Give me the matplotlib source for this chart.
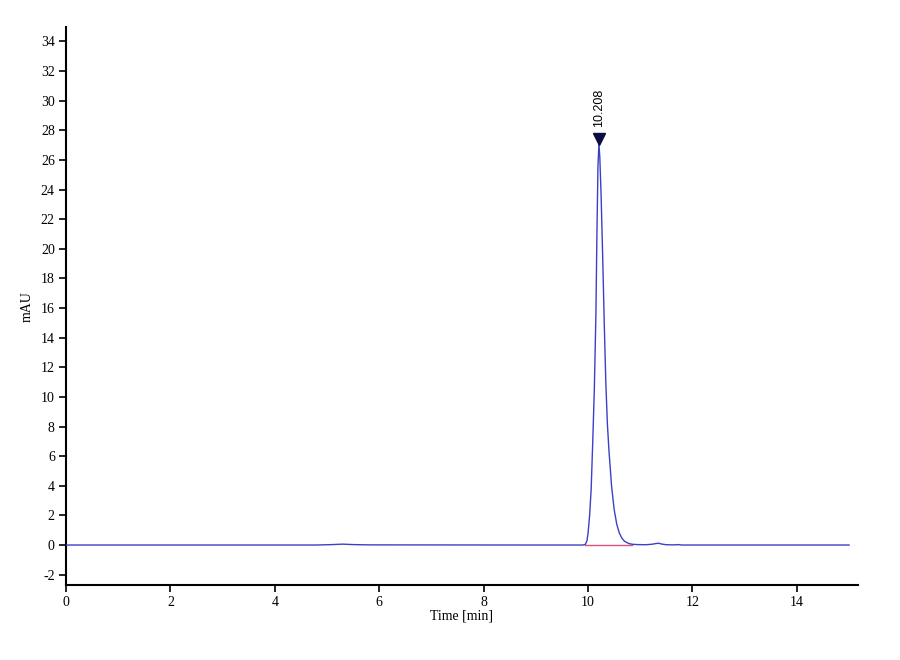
import matplotlib.pyplot as plt

# chromatogram trace (time in min, signal in mAU)
time = [0.0, 4.8, 5.1, 5.3, 5.5, 5.8, 9.0, 9.90, 9.95, 9.98, 10.00, 10.03, 10.06,
        10.09, 10.12, 10.15, 10.17, 10.19, 10.208, 10.225, 10.25, 10.28, 10.31,
        10.34, 10.37, 10.40, 10.45, 10.50, 10.55, 10.60, 10.65, 10.70, 10.78,
        10.85, 10.95, 11.10, 11.22, 11.30, 11.35, 11.42, 11.50, 11.65, 11.72,
        11.80, 13.0, 15.0]
signal = [0.0, 0.0, 0.03, 0.06, 0.03, 0.01, 0.0, 0.0, 0.05, 0.3, 0.8, 2.0, 3.8,
          7.0, 10.5, 15.5, 21.0, 25.6, 27.1, 26.2, 23.6, 19.5, 15.0,
          11.0, 8.2, 6.4, 4.0, 2.4, 1.4, 0.8, 0.45, 0.25, 0.1,
          0.05, 0.03, 0.02, 0.05, 0.1, 0.12, 0.06, 0.02, 0.01, 0.03,
          0.0, 0.0, 0.0]

peak_time = 10.208
peak_height = 27.1
baseline_start, baseline_end = 9.94, 10.85

x_ticks = list(range(0, 15, 2))
y_ticks = list(range(-2, 35, 2))

plt.rcParams['font.family'] = ['Liberation Serif', 'DejaVu Serif']
plt.rcParams['axes.unicode_minus'] = False

fig = plt.figure(figsize=(9, 6.6), dpi=100)
ax = fig.add_axes([0.0733, 0.1136, 0.88, 0.845])

ax.plot([baseline_start, baseline_end], [0, 0], color='#e0507a', lw=1.0, zorder=2)
ax.plot(time, signal, color='#3b40c8', lw=1.0, zorder=3)

ax.plot([peak_time], [peak_height + 0.3], marker='v', color='#0c0c45',
        markersize=8, zorder=4)
ax.text(peak_time, peak_height + 1.1, f'{peak_time:.3f}', rotation=90,
        ha='center', va='bottom', fontsize=9, family=['Liberation Sans'])

ax.set_xlim(0, 15.17)
ax.set_ylim(-2.7, 34.95)
ax.set_xticks(x_ticks)
ax.set_yticks(y_ticks)
ax.tick_params(direction='out', length=5, width=1.2, labelsize=10, pad=3)

for side in ('top', 'right'):
    ax.spines[side].set_visible(False)
for side in ('left', 'bottom'):
    ax.spines[side].set_linewidth(1.5)

ax.set_xlabel('Time [min]', fontsize=10)
ax.set_ylabel('mAU', fontsize=10)
ax.xaxis.set_label_coords(0.5, -0.043)
ax.yaxis.set_label_coords(-0.041, 0.5)

fig.savefig('out.png', dpi=100)
